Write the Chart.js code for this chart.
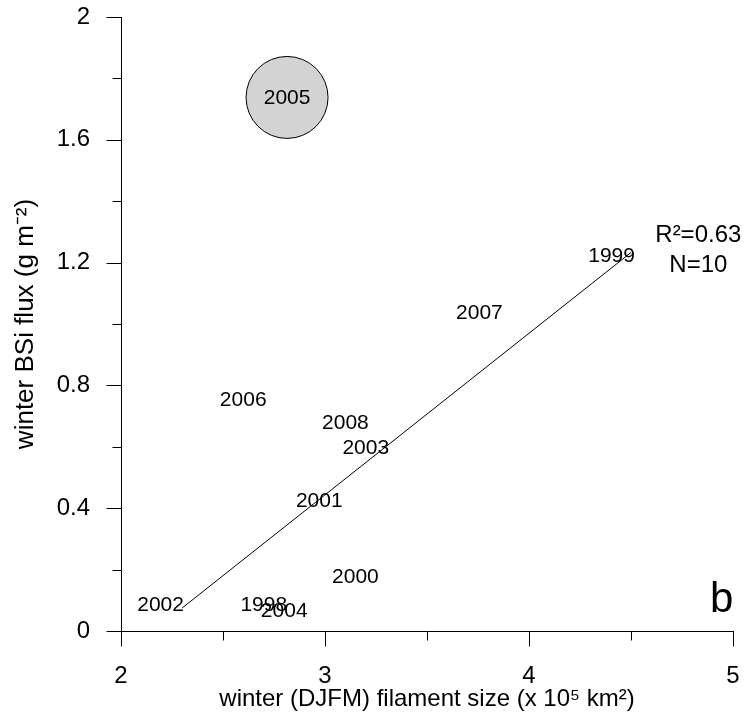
<!DOCTYPE html>
<html>
<head>
<meta charset="utf-8">
<script src="https://cdn.jsdelivr.net/npm/chart.js@4.4.1/dist/chart.umd.min.js"></script>
<style>
  body { margin: 0; background: #fff; }
  #wrap { width: 752px; height: 726px; }
</style>
</head>
<body>
<div id="wrap"><canvas id="chart"></canvas></div>
<script>
// years used as plot symbols
const years = ['1998', '1999', '2000', '2001', '2002', '2003', '2004', '2005', '2006', '2007', '2008'];
const filamentSize = [2.70, 4.405, 3.149, 2.972, 2.194, 3.200, 2.800, 2.814, 2.599, 3.757, 3.100];
const bsiFlux = [0.088, 1.223, 0.179, 0.427, 0.088, 0.600, 0.069, 1.738, 0.755, 1.038, 0.679];
const outlierYear = '2005';

// regression line end points
const fitX = [2.30, 4.50];
const fitY = [0.075, 1.233];

const xMajor = [2, 3, 4, 5];
const xMinor = [2.5, 3.5, 4.5];
const yMajor = [0, 0.4, 0.8, 1.2, 1.6, 2];
const yMinor = [0.2, 0.6, 1.0, 1.4, 1.8];

const statsLines = ['R²=0.63', 'N=10'];
const panelLetter = 'b';

const FONT = '"Liberation Sans", Arial, sans-serif';

const points = years.map((y, i) => ({ x: filamentSize[i], y: bsiFlux[i] }));
const oi = years.indexOf(outlierYear);

// draws minor/major ticks, year labels and the notes
const extras = {
    id: 'extras',
    afterDatasetsDraw(chart) {
        const ctx = chart.ctx;
        const xs = chart.scales.x;
        const ys = chart.scales.y;
        const left = chart.chartArea.left;
        const bottom = chart.chartArea.bottom;
        const al = v => Math.round(v) + 0.5;

        ctx.save();
        ctx.strokeStyle = '#000';
        ctx.lineWidth = 1;
        ctx.beginPath();
        xMajor.forEach(v => { const p = al(xs.getPixelForValue(v)); ctx.moveTo(p, al(bottom)); ctx.lineTo(p, al(bottom) + 15); });
        xMinor.forEach(v => { const p = al(xs.getPixelForValue(v)); ctx.moveTo(p, al(bottom)); ctx.lineTo(p, al(bottom) + 9); });
        yMajor.forEach(v => { const p = al(ys.getPixelForValue(v)); ctx.moveTo(al(left), p); ctx.lineTo(al(left) - 15, p); });
        yMinor.forEach(v => { const p = al(ys.getPixelForValue(v)); ctx.moveTo(al(left), p); ctx.lineTo(al(left) - 9, p); });
        ctx.stroke();

        // year labels as the symbols
        ctx.fillStyle = '#000';
        ctx.textAlign = 'center';
        ctx.textBaseline = 'middle';
        ctx.font = '21px ' + FONT;
        const meta = chart.getDatasetMeta(0);
        meta.data.forEach((pt, i) => {
            ctx.fillText(years[i], pt.x, pt.y + 1);
        });

        ctx.font = '24px ' + FONT;
        const sx = xs.getPixelForValue(4.83);
        ctx.fillText(statsLines[0], sx, ys.getPixelForValue(1.289));
        ctx.fillText(statsLines[1], sx, ys.getPixelForValue(1.191));

        ctx.font = '42px ' + FONT;
        ctx.fillText(panelLetter, xs.getPixelForValue(4.945), ys.getPixelForValue(0.098));
        ctx.restore();
    }
};

new Chart(document.getElementById('chart'), {
    type: 'scatter',
    data: {
        datasets: [
            {
                label: 'years',
                data: points,
                pointRadius: 0,
                pointHoverRadius: 0,
                order: 3
            },
            {
                label: 'outlier',
                data: [points[oi]],
                pointRadius: 41,
                pointHoverRadius: 41,
                backgroundColor: '#d3d3d3',
                borderColor: '#000',
                borderWidth: 1,
                order: 2
            },
            {
                type: 'line',
                label: 'fit',
                data: fitX.map((x, i) => ({ x: x, y: fitY[i] })),
                borderColor: '#000',
                borderWidth: 1,
                pointRadius: 0,
                fill: false,
                order: 1
            }
        ]
    },
    options: {
        responsive: true,
        maintainAspectRatio: false,
        animation: false,
        layout: { autoPadding: false, padding: { top: 17, right: 19, left: 0, bottom: 0 } },
        plugins: {
            legend: { display: false },
            tooltip: { enabled: false }
        },
        scales: {
            x: {
                type: 'linear',
                min: 2,
                max: 5,
                ticks: { stepSize: 1, color: '#000', padding: 31, font: { family: FONT, size: 24 } },
                grid: { display: true, drawOnChartArea: false, drawTicks: false },
                border: { display: true, color: '#000', width: 1 },
                title: {
                    display: true,
                    text: 'winter (DJFM) filament size (x 10⁵ km²)',
                    color: '#000',
                    font: { family: FONT, size: 24 },
                    padding: { top: 0, bottom: 12 }
                },
                afterFit: s => { s.height = 95; s.paddingLeft = 0; s.paddingRight = 0; }
            },
            y: {
                type: 'linear',
                min: 0,
                max: 2,
                ticks: {
                    stepSize: 0.4, color: '#000', padding: 31, font: { family: FONT, size: 24 },
                    callback: v => String(+v.toFixed(1))
                },
                grid: { display: true, drawOnChartArea: false, drawTicks: false },
                border: { display: true, color: '#000', width: 1 },
                title: {
                    display: true,
                    text: 'winter BSi flux (g m⁻²)',
                    color: '#000',
                    font: { family: FONT, size: 26 },
                    padding: { top: 10, bottom: 0 }
                },
                afterFit: s => { s.width = 121; s.paddingTop = 0; s.paddingBottom = 0; }
            }
        }
    },
    plugins: [extras]
});
</script>
</body>
</html>
